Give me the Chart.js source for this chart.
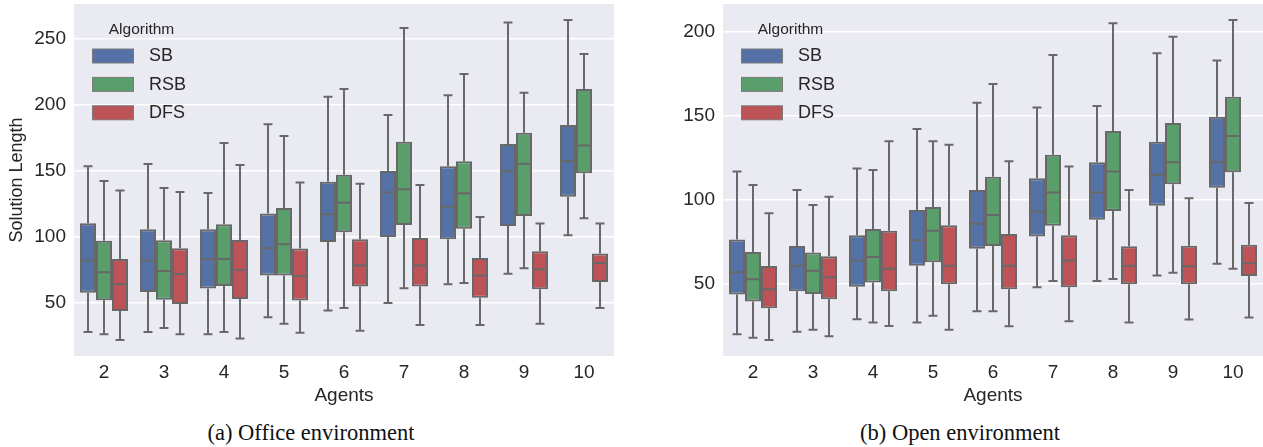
<!DOCTYPE html>
<html>
<head>
<meta charset="utf-8">
<script src="https://cdn.jsdelivr.net/npm/chart.js@4.4.1/dist/chart.umd.min.js"></script>
<style>
  html, body { margin: 0; padding: 0; background: #ffffff; }
  body { width: 1263px; height: 447px; position: relative; overflow: hidden; }
  canvas { position: absolute; top: 0; }
  #c1 { left: 0; }
  #c2 { left: 640px; }
  .cap { position: absolute; top: 420px; font-family: "Liberation Serif", "Times New Roman", serif; font-size: 22.5px; color: #111; white-space: nowrap; transform: translateX(-50%); }
</style>
</head>
<body>
<canvas id="c1" width="640" height="410"></canvas>
<canvas id="c2" width="623" height="410"></canvas>
<div class="cap" style="left:311px">(a) Office environment</div>
<div class="cap" style="left:960px">(b) Open environment</div>
<script>
// Categories (number of agents)
const categories = ['2', '3', '4', '5', '6', '7', '8', '9', '10'];
const algorithms = ['SB', 'RSB', 'DFS'];

// Each entry: [whiskerLow, Q1, median, Q3, whiskerHigh]
// (a) Office environment
const officeSB = [[27.5,57.3,81.6,109.8,153],[27.5,57.8,81.6,105.3,154.8],[25.8,60.4,82.8,105.3,132.8],[38.6,70.2,90.9,117.2,184.8],[43.7,95.7,116.7,141.4,205.8],[49.5,99.5,133.1,149.5,191.9],[63.6,97.7,122.5,153,206.8],[71.7,107.8,149.2,170,261.9],[100.8,130,156.8,184.3,263.9]];
const officeRSB = [[25.8,51.5,72.7,96.7,141.9],[30.6,52,73.7,97,136.6],[27.5,62.4,82.8,109.1,170.7],[33.8,70.2,93.9,121.5,176],[45.7,103,125.5,146.7,211.6],[60.6,108.6,135.6,171.7,257.8],[64.6,105.8,132.6,156.8,223],[75.8,115.4,155,178.5,208.8],[113.6,147.7,168.7,211.6,238.1]];
const officeDFS = [[21.5,43.4,63.6,82.8,134.6],[25.8,48.7,71.5,90.9,133.6],[22.5,52.5,74.7,97.2,154],[27,51.3,69.9,90.7,140.7],[28.5,61.9,77.8,97.7,139.9],[32.8,61.9,77.8,98.7,138.9],[32.8,53.5,70.2,83.6,114.6],[33.8,59.8,75,88.6,109.6],[45.7,65.4,79.8,86.9,109.6]];
// (b) Open environment
const openSB = [[20,43.7,56.9,76.4,116.9],[21.6,45.6,60.9,72.6,106],[29,48.4,63.9,79,118.8],[27,60.9,76,94,142.3],[33.7,71,85.9,106,157.9],[48,78.2,93.1,112.9,155],[51.8,88.3,104.4,122.4,156],[55,96.6,115.1,134.7,187.3],[62.1,107.3,122.4,149.6,183.1]];
const openRSB = [[17.9,39.5,52.8,69,108.9],[22.8,44,57.9,68.8,97],[27,50.8,66.1,82.7,117.9],[31,62.9,81.7,95.8,134.9],[33.7,72.6,91.1,113.9,169],[51.8,84.7,104.4,127,186.3],[53,93.5,116.9,141.1,205.2],[56.7,109.3,122.4,145.8,197.2],[59.1,116.5,138.1,161.5,207.1]];
const openDFS = [[16.7,35.5,46.8,60.7,92.1],[18.8,40.9,54,66.5,102],[25,45.6,59.1,81.7,134.9],[22.8,49.8,60.9,84.9,132.9],[24.8,46.8,60.9,79.8,123],[27.8,48,63.9,79,120],[27,49.8,60.9,72.4,106],[28.8,49.8,60.5,72.8,101],[30,54.8,62.3,73.4,98.2]];

// Y tick labels
const officeTicks = [50, 100, 150, 200, 250];
const openTicks = [50, 100, 150, 200];

const COLORS = ['#5572a6', '#5a9e6b', '#bd5357'];
const LINE = '#686868';
const TEXT = '#262626';
const SANS = 'Liberation Sans, Arial, sans-serif';

const boxPlugin = {
  id: 'boxPlugin',
  beforeDraw(chart) {
    const a = chart.chartArea, ctx = chart.ctx;
    ctx.save();
    ctx.fillStyle = '#eaeaf2';
    ctx.fillRect(a.left, a.top, a.right - a.left, a.bottom - a.top);
    ctx.restore();
  },
  afterDatasetsDraw(chart) {
    const ctx = chart.ctx, ys = chart.scales.y;
    ctx.save();
    ctx.strokeStyle = LINE;
    ctx.lineWidth = 2;
    ctx.lineCap = 'butt';
    chart.data.datasets.forEach((ds, i) => {
      const meta = chart.getDatasetMeta(i);
      meta.data.forEach((el, j) => {
        const s = ds.stats[j];
        const x = el.x, w = el.width;
        const yLo = ys.getPixelForValue(s[0]);
        const yQ1 = ys.getPixelForValue(s[1]);
        const yMed = ys.getPixelForValue(s[2]);
        const yQ3 = ys.getPixelForValue(s[3]);
        const yHi = ys.getPixelForValue(s[4]);
        const cap = w * 0.28;
        ctx.beginPath();
        ctx.moveTo(x, yQ3); ctx.lineTo(x, yHi);
        ctx.moveTo(x - cap, yHi); ctx.lineTo(x + cap, yHi);
        ctx.moveTo(x, yQ1); ctx.lineTo(x, yLo);
        ctx.moveTo(x - cap, yLo); ctx.lineTo(x + cap, yLo);
        ctx.moveTo(x - w / 2 + 1, yMed); ctx.lineTo(x + w / 2 - 1, yMed);
        ctx.stroke();
      });
    });
    ctx.restore();
  },
  afterDraw(chart) {
    const a = chart.chartArea, ctx = chart.ctx;
    ctx.save();
    ctx.fillStyle = TEXT;
    ctx.font = '15.5px ' + SANS;
    ctx.textAlign = 'center';
    ctx.textBaseline = 'middle';
    ctx.fillText('Algorithm', a.left + 67.5, a.top + 25.5);
    ctx.font = '18px ' + SANS;
    ctx.textAlign = 'left';
    algorithms.forEach((name, k) => {
      const cy = a.top + 52 + k * 28.4;
      ctx.fillStyle = COLORS[k];
      ctx.fillRect(a.left + 18.5, cy - 7, 41, 14);
      ctx.strokeStyle = '#7a7a7a';
      ctx.lineWidth = 1;
      ctx.strokeRect(a.left + 18.5, cy - 7, 41, 14);
      ctx.fillStyle = TEXT;
      ctx.fillText(name, a.left + 75, cy + 0.5);
    });
    ctx.restore();
  }
};

function noPad(s) { s.paddingTop = 0; s.paddingBottom = 0; s.paddingLeft = 0; s.paddingRight = 0; }

function makePanel(id, series, ticks, ymin, ymax, yWidth, padRight, showYTitle) {
  const datasets = series.map((arr, k) => ({
    label: algorithms[k],
    data: arr.map(t => [t[1], t[3]]),
    stats: arr,
    backgroundColor: COLORS[k],
    borderColor: LINE,
    borderWidth: 2,
    borderSkipped: false,
    categoryPercentage: 0.8,
    barPercentage: 1.0
  }));
  return new Chart(document.getElementById(id), {
    type: 'bar',
    data: { labels: categories, datasets },
    plugins: [boxPlugin],
    options: {
      responsive: false,
      animation: false,
      devicePixelRatio: 1,
      layout: { padding: { left: 0, right: padRight, top: 4, bottom: 0 } },
      plugins: { legend: { display: false }, tooltip: { enabled: false } },
      scales: {
        x: {
          grid: { display: false, drawTicks: false },
          border: { display: false },
          ticks: { color: TEXT, font: { family: SANS, size: 19 }, padding: 5 },
          title: { display: true, text: 'Agents', color: TEXT, font: { family: SANS, size: 19 }, padding: { top: 0, bottom: 3 } },
          afterFit(s) { s.height = 54; noPad(s); }
        },
        y: {
          min: ymin, max: ymax,
          grid: { color: '#ffffff', lineWidth: 1.5, drawTicks: false },
          border: { display: false },
          ticks: { color: TEXT, font: { family: SANS, size: 19 }, padding: 8 },
          afterBuildTicks(s) { s.ticks = ticks.map(v => ({ value: v })); },
          title: { display: showYTitle, text: 'Solution Length', color: TEXT, font: { family: SANS, size: 18 }, padding: { top: 6.5, bottom: 0 } },
          afterFit(s) { s.width = yWidth; noPad(s); }
        }
      }
    }
  });
}

makePanel('c1', [officeSB, officeRSB, officeDFS], officeTicks, 9.3, 276, 74, 26, true);
makePanel('c2', [openSB, openRSB, openDFS], openTicks, 7.1, 216.7, 83, 0, false);
</script>
</body>
</html>
